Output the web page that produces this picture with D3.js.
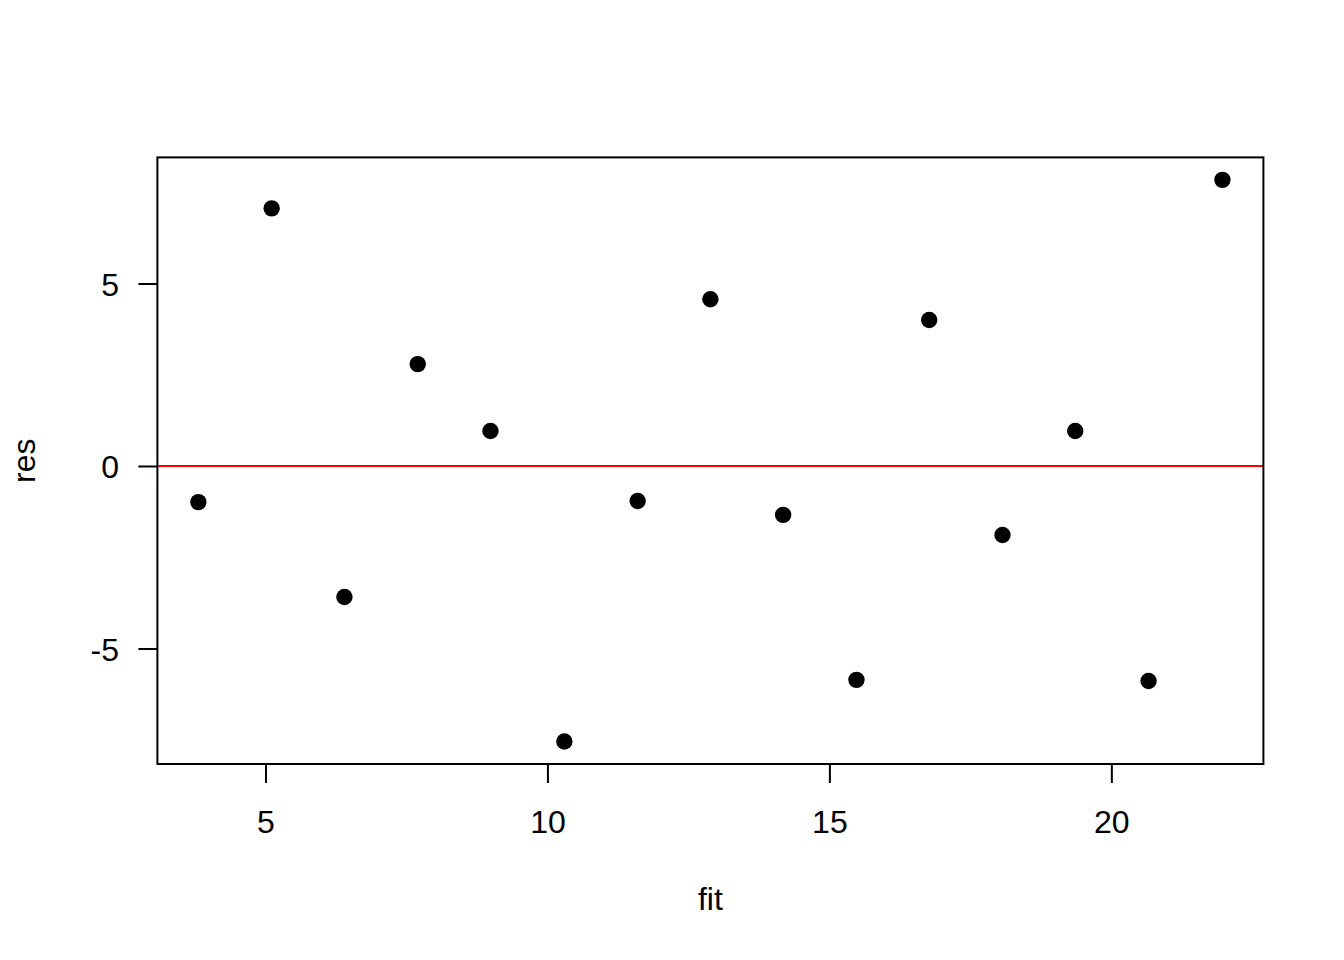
<!DOCTYPE html>
<html>
<head>
<meta charset="utf-8">
<script src="https://cdn.jsdelivr.net/npm/d3@7"></script>
<style>
  body { margin: 0; background: #fff; }
  svg { display: block; font-family: "Liberation Sans", Arial, sans-serif; }
</style>
</head>
<body>
<div id="chart"></div>
<script>
// fitted values and residuals
var fit = [3.81, 5.11, 6.40, 7.70, 8.99, 10.30, 11.60, 12.89, 14.18, 15.48, 16.77, 18.07, 19.36, 20.66, 21.97];
var res = [-0.99, 7.06, -3.59, 2.79, 0.96, -7.55, -0.96, 4.57, -1.34, -5.86, 4.00, -1.89, 0.96, -5.89, 7.84];
var xTicks = [5, 10, 15, 20];
var yTicks = [-5, 0, 5];

var width = 1344,
    height = 960,
    margin = { top: 157.4, right: 80.6, bottom: 196, left: 157.4 },
    fontSize = 32;

var plotW = width - margin.left - margin.right,
    plotH = height - margin.top - margin.bottom;

// R style 4% padding on each side
function padded(ext) {
    var p = (ext[1] - ext[0]) * 0.04;
    return [ext[0] - p, ext[1] + p];
}

var data = fit.map(function (d, i) { return { x: d, y: res[i] }; });

var xScale = d3.scaleLinear().domain(padded(d3.extent(fit))).range([0, plotW]);
var yScale = d3.scaleLinear().domain(padded(d3.extent(res))).range([plotH, 0]);

var svg = d3.select('#chart').append('svg')
    .attr('width', width)
    .attr('height', height);

var g = svg.append('g')
    .attr('transform', 'translate(' + margin.left + ',' + margin.top + ')');

// zero line
g.append('line')
    .attr('x1', 0).attr('x2', plotW)
    .attr('y1', yScale(0)).attr('y2', yScale(0))
    .attr('stroke', '#ff0000')
    .attr('stroke-width', 2);

// points
g.selectAll('circle.pt').data(data).enter()
    .append('circle')
    .attr('class', 'pt')
    .attr('cx', function (d) { return xScale(d.x); })
    .attr('cy', function (d) { return yScale(d.y); })
    .attr('r', 8.2)
    .attr('fill', '#000');

// box
g.append('rect')
    .attr('width', plotW).attr('height', plotH)
    .attr('fill', 'none')
    .attr('stroke', '#000')
    .attr('stroke-width', 2);

var xAxis = d3.axisBottom(xScale).tickValues(xTicks).tickSize(19).tickPadding(27.3).tickFormat(d3.format('d'));
var yAxis = d3.axisLeft(yScale).tickValues(yTicks).tickSize(19).tickPadding(19.4).tickFormat(d3.format('d'));

var gx = g.append('g').attr('transform', 'translate(0,' + plotH + ')').call(xAxis);
var gy = g.append('g').call(yAxis);

[gx, gy].forEach(function (a) {
    a.select('.domain').remove();
    a.selectAll('line').attr('stroke', '#000').attr('stroke-width', 2);
    a.selectAll('text').attr('fill', '#000').style('font-size', fontSize + 'px')
        .style('font-family', '"Liberation Sans", Arial, sans-serif');
});
gx.selectAll('text').attr('dy', '0.71em');
gy.selectAll('text').attr('dy', '0.36em').text(function (d) { return d < 0 ? '-' + Math.abs(d) : d; });

// axis titles
svg.append('text')
    .attr('x', margin.left + plotW / 2)
    .attr('y', 910)
    .attr('text-anchor', 'middle')
    .style('font-size', fontSize + 'px')
    .text('fit');

svg.append('text')
    .attr('transform', 'translate(35,' + (margin.top + plotH / 2) + ') rotate(-90)')
    .attr('text-anchor', 'middle')
    .style('font-size', fontSize + 'px')
    .text('res');
</script>
</body>
</html>
